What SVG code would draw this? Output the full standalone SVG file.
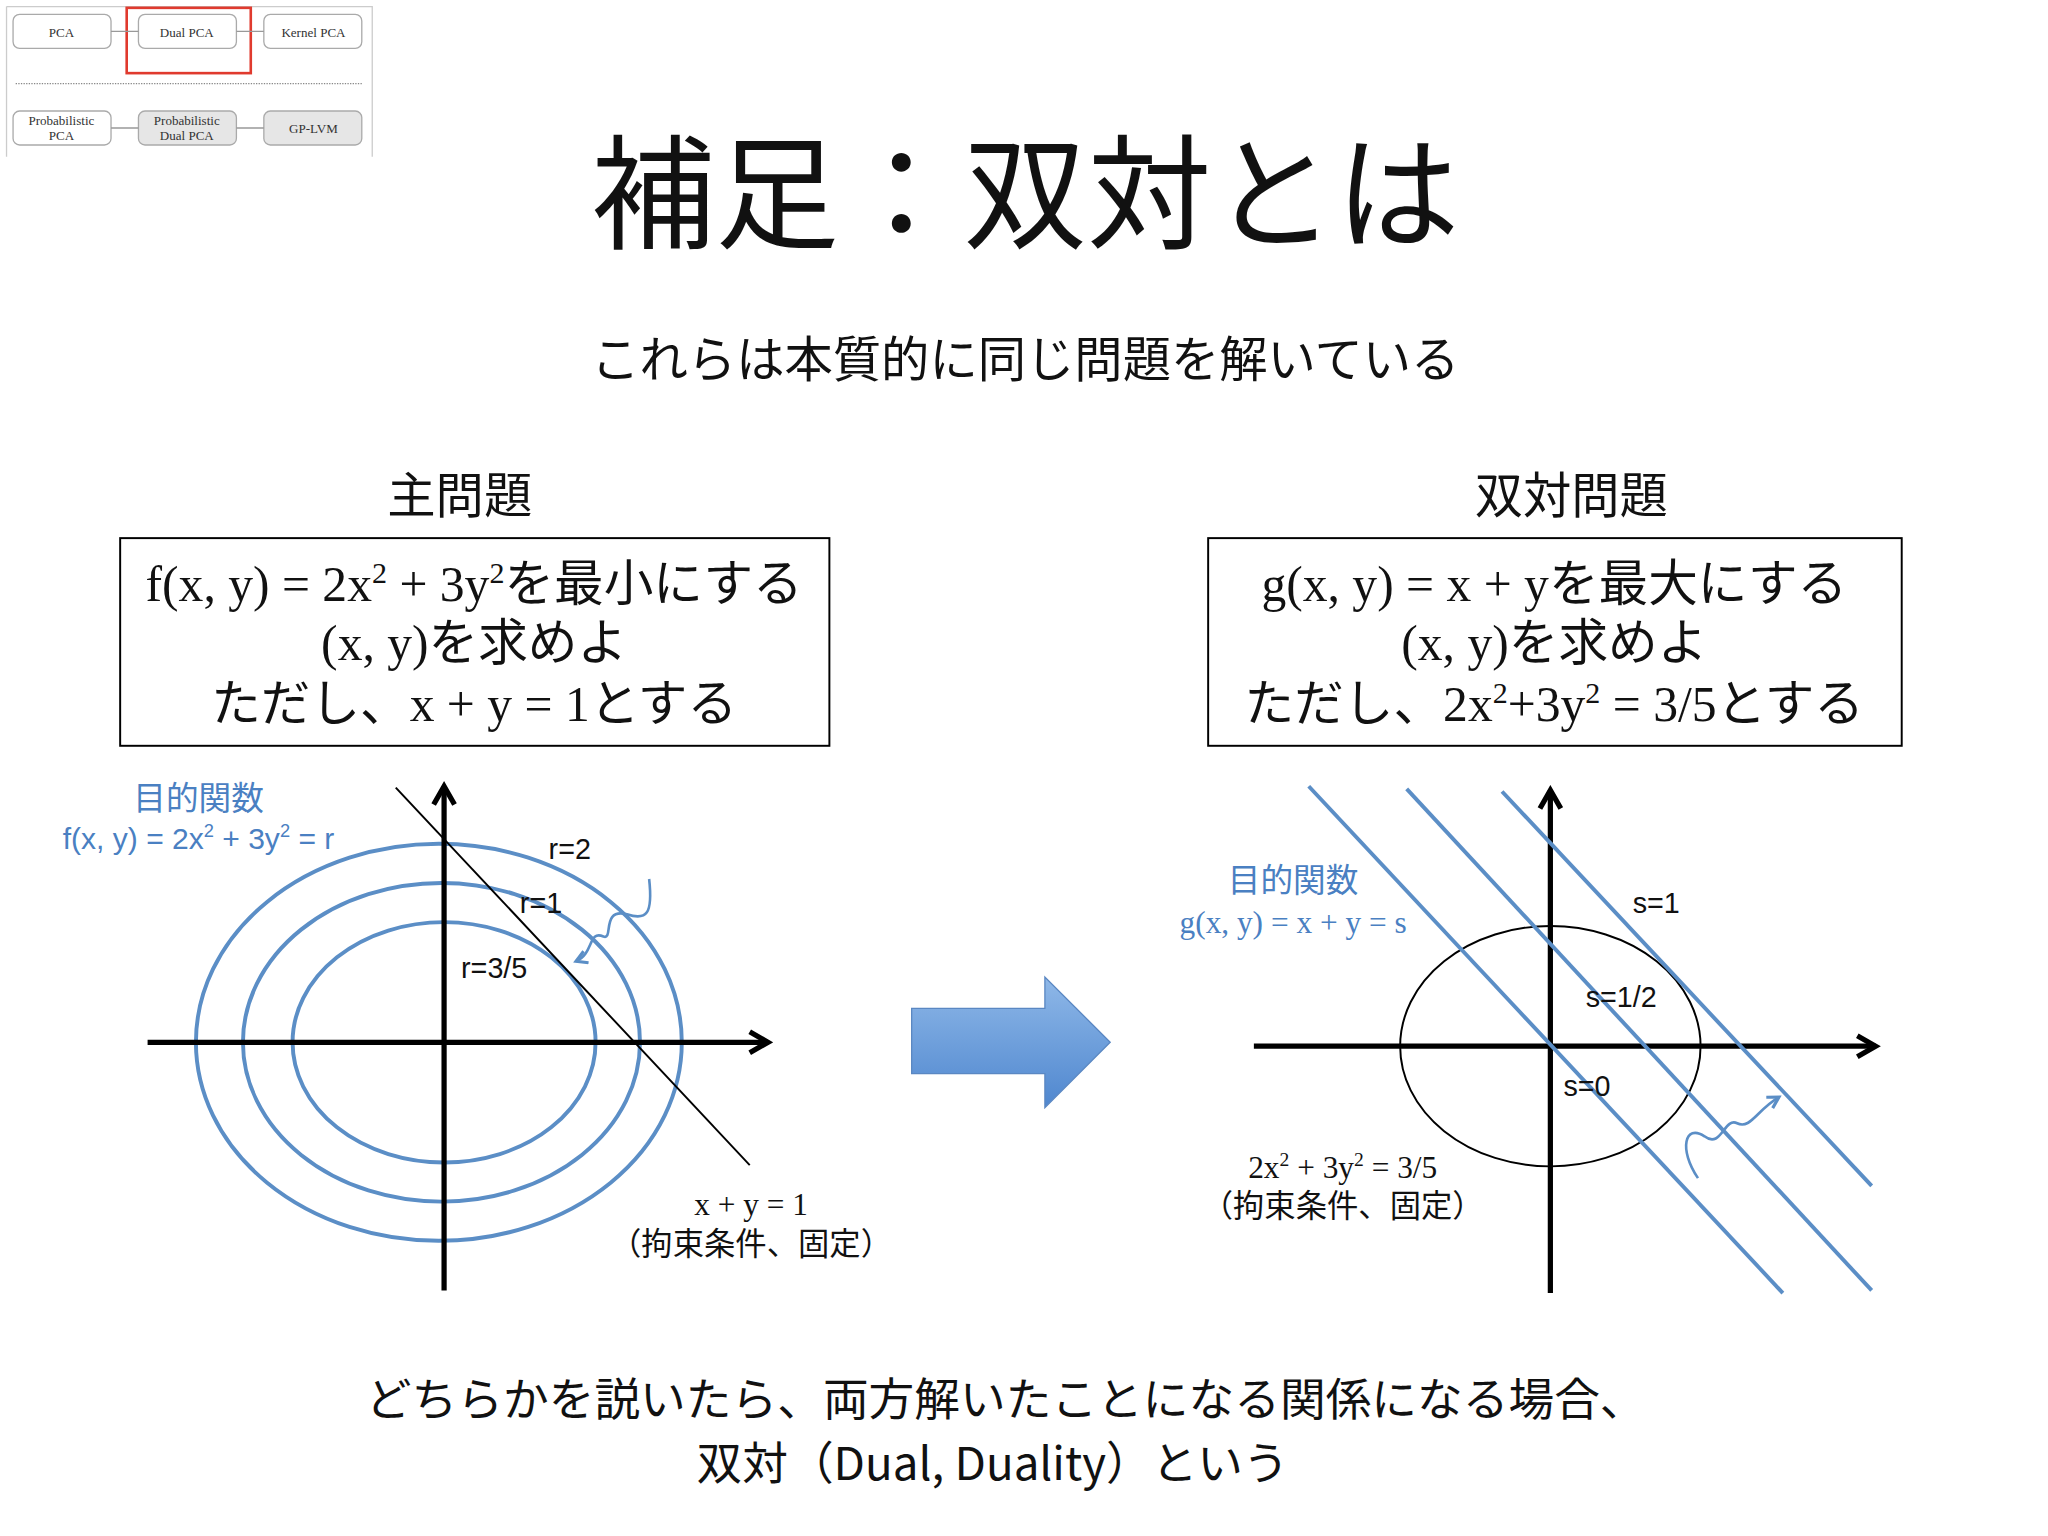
<svg xmlns="http://www.w3.org/2000/svg" width="2048" height="1536" viewBox="0 0 2048 1536">
<style>
.jp{font-family:"Noto Sans CJK JP","Noto Sans",sans-serif;fill:#111}
.mix{font-family:"Liberation Serif","Noto Sans CJK JP",serif;fill:#111}
.blue{fill:#4a80c2}
.ell{fill:none;stroke:#5b8ec6;stroke-width:3}
.tb{fill:#fff;stroke:#aaa;stroke-width:1}
.tg{fill:#e6e6e6;stroke:#aaa;stroke-width:1}
.tt{font-family:"Liberation Serif",serif;font-size:10px;fill:#333;text-anchor:middle}
.ax{stroke:#000;stroke-width:4;fill:none}
.lab{font-family:"Liberation Sans","Noto Sans",sans-serif;font-size:22px;fill:#111}
</style>
<defs>
<marker id="ah" viewBox="0 0 10 10" refX="8" refY="5" markerWidth="5" markerHeight="5" orient="auto"><path d="M1,1 L8,5 L1,9" fill="none" stroke="#000" stroke-width="2"/></marker>
<marker id="bh" viewBox="0 0 10 10" refX="8" refY="5" markerWidth="6" markerHeight="6" orient="auto"><path d="M1,1 L8,5 L1,9" fill="none" stroke="#5b8ec6" stroke-width="2"/></marker>
<linearGradient id="ag" x1="0" y1="0" x2="0" y2="1"><stop offset="0" stop-color="#8fb8e8"/><stop offset="1" stop-color="#4f87cf"/></linearGradient>
</defs>
<rect width="2048" height="1536" fill="#fff"/>
<g transform="scale(1.30612)">
<g id="thumb">
<path d="M5,5 H285 V120" fill="none" stroke="#ccc"/><path d="M5,5 V120" stroke="#ccc"/>
<rect class="tb" x="10" y="11" width="75" height="26" rx="5"/><text class="tt" x="47" y="28">PCA</text>
<rect class="tb" x="106" y="11" width="75" height="26" rx="5"/><text class="tt" x="143" y="28">Dual PCA</text>
<rect class="tb" x="202" y="11" width="75" height="26" rx="5"/><text class="tt" x="240" y="28">Kernel PCA</text>
<rect x="97" y="6" width="95" height="50" fill="none" stroke="#e03a2e" stroke-width="2"/>
<line x1="12" y1="64" x2="277" y2="64" stroke="#888" stroke-dasharray="1,1"/>
<rect class="tb" x="10" y="85" width="75" height="26" rx="5"/><text class="tt" x="47" y="96">Probabilistic</text><text class="tt" x="47" y="107">PCA</text>
<rect class="tg" x="106" y="85" width="75" height="26" rx="5"/><text class="tt" x="143" y="96">Probabilistic</text><text class="tt" x="143" y="107">Dual PCA</text>
<rect class="tg" x="202" y="85" width="75" height="26" rx="5"/><text class="tt" x="240" y="102">GP-LVM</text>
<path d="M85,24 H106 M181,24 H202 M85,98 H106 M181,98 H202" stroke="#999"/>
</g>
<text class="jp" x="785" y="183" font-size="95" text-anchor="middle">補足：双対とは</text>
<text class="jp" x="785" y="289" font-size="37" text-anchor="middle">これらは本質的に同じ問題を解いている</text>
<text class="jp" x="352" y="393" font-size="37" text-anchor="middle">主問題</text>
<text class="jp" x="1203" y="393" font-size="37" text-anchor="middle">双対問題</text>
<g id="primal">
<rect x="92" y="412" width="543" height="159" fill="none" stroke="#000" stroke-width="1.5"/>
<text class="mix" font-size="38" text-anchor="middle"><tspan x="363" y="460">f(x, y) = 2x<tspan font-size="23" dy="-14">2</tspan><tspan dy="14"> + 3y</tspan><tspan font-size="23" dy="-14">2</tspan><tspan dy="14">を最小にする</tspan></tspan><tspan x="363" y="505">(x, y)を求めよ</tspan><tspan x="363" y="552">ただし、x + y = 1とする</tspan></text>
</g>
<g id="dual">
<rect x="925" y="412" width="531" height="159" fill="none" stroke="#000" stroke-width="1.5"/>
<text class="mix" font-size="38" text-anchor="middle"><tspan x="1190" y="460">g(x, y) = x + yを最大にする</tspan><tspan x="1190" y="505">(x, y)を求めよ</tspan><tspan x="1190" y="552">ただし、2x<tspan font-size="23" dy="-14">2</tspan><tspan dy="14">+3y</tspan><tspan font-size="23" dy="-14">2</tspan><tspan dy="14"> = 3/5とする</tspan></tspan></text>
</g>
<g id="leftgraph">
<ellipse class="ell" cx="336" cy="798" rx="186" ry="152"/>
<ellipse class="ell" cx="338" cy="798" rx="152" ry="122"/>
<ellipse class="ell" cx="340" cy="798" rx="116" ry="92"/>
<line class="ax" x1="113" y1="798" x2="588" y2="798" marker-end="url(#ah)"/>
<line class="ax" x1="340" y1="988" x2="340" y2="602" marker-end="url(#ah)"/>
<line x1="303" y1="603" x2="574" y2="892" stroke="#000" stroke-width="1.5"/>
<text class="lab" x="420" y="658">r=2</text>
<text class="lab" x="398" y="699">r=1</text>
<text class="lab" x="353" y="749">r=3/5</text>
<text class="jp blue" x="152" y="620" font-size="25" text-anchor="middle">目的関数</text>
<text x="152" y="650" font-family="Liberation Sans Narrow,Liberation Sans,sans-serif" font-size="23" class="blue" text-anchor="middle">f(x, y) = 2x<tspan font-size="14" dy="-9">2</tspan><tspan dy="9"> + 3y</tspan><tspan font-size="14" dy="-9">2</tspan><tspan dy="9"> = r</tspan></text>
<path d="M497,673 C500,700 495,705 480,700 C460,695 470,720 462,717 C450,712 455,730 441,736" fill="none" stroke="#5b8ec6" stroke-width="2" marker-end="url(#bh)"/>
<text class="mix" x="575" y="930" font-size="24" text-anchor="middle">x + y = 1</text>
<text class="jp" x="575" y="961" font-size="24" text-anchor="middle">（拘束条件、固定）</text>
</g>
<path id="bigarrow" d="M698,772 H800 V748 L850,798 L800,848 V822 H698 Z" fill="url(#ag)" stroke="#5a87c2" stroke-width="1"/>
<g id="rightgraph">
<ellipse cx="1187" cy="801" rx="115" ry="92" fill="none" stroke="#000" stroke-width="1.5"/>
<line class="ax" x1="960" y1="801" x2="1436" y2="801" marker-end="url(#ah)"/>
<line class="ax" x1="1187" y1="990" x2="1187" y2="605" marker-end="url(#ah)"/>
<line x1="1002" y1="602" x2="1365" y2="990" stroke="#5b8ec6" stroke-width="3"/>
<line x1="1077" y1="604" x2="1433" y2="988" stroke="#5b8ec6" stroke-width="3"/>
<line x1="1150" y1="606" x2="1433" y2="908" stroke="#5b8ec6" stroke-width="3"/>
<text class="lab" x="1250" y="699">s=1</text>
<text class="lab" x="1214" y="771">s=1/2</text>
<text class="lab" x="1197" y="839">s=0</text>
<text class="jp blue" x="990" y="683" font-size="25" text-anchor="middle">目的関数</text>
<text x="990" y="714" font-family="Liberation Serif,serif" font-size="24" class="blue" text-anchor="middle">g(x, y) = x + y = s</text>
<path d="M1300,902 C1285,880 1290,860 1305,870 C1318,880 1320,855 1330,860 C1340,865 1345,850 1362,840" fill="none" stroke="#5b8ec6" stroke-width="2" marker-end="url(#bh)"/>
<text class="mix" x="1028" y="902" font-size="24" text-anchor="middle">2x<tspan font-size="15" dy="-9">2</tspan><tspan dy="9"> + 3y</tspan><tspan font-size="15" dy="-9">2</tspan><tspan dy="9"> = 3/5</tspan></text>
<text class="jp" x="1028" y="932" font-size="24" text-anchor="middle">（拘束条件、固定）</text>
</g>
<text class="jp" x="770" y="1084" font-size="35" text-anchor="middle">どちらかを説いたら、両方解いたことになる関係になる場合、</text>
<text class="jp" x="760" y="1133" font-size="35" text-anchor="middle">双対（Dual, Duality）という</text>
</g>
</svg>
